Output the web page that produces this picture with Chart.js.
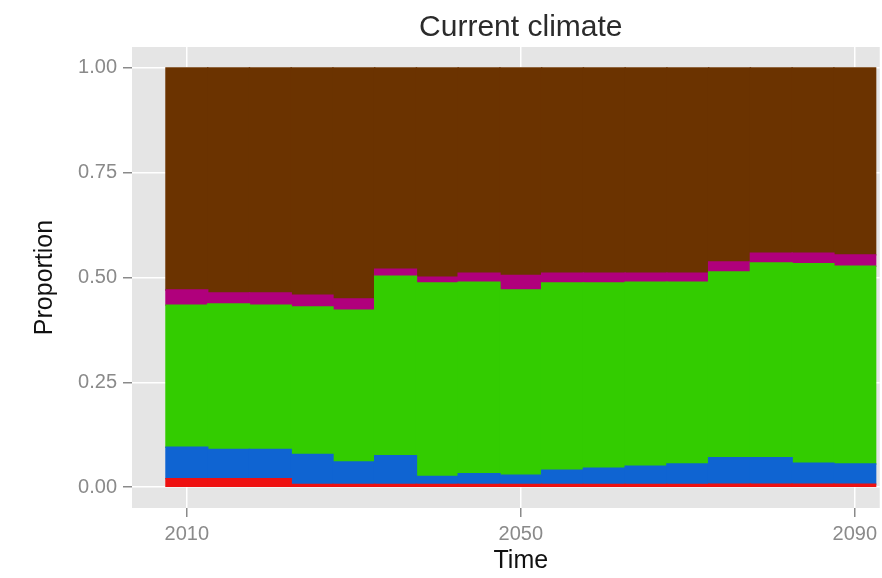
<!DOCTYPE html>
<html>
<head>
<meta charset="utf-8">
<script src="https://cdn.jsdelivr.net/npm/chart.js@4/dist/chart.umd.min.js"></script>
<style>
  html, body { margin: 0; padding: 0; background: #fff; }
</style>
</head>
<body>
<canvas id="climateChart" width="882" height="578"></canvas>
<script>
// Time steps (5-year bins) and the share of each class, bottom to top
const years = [2010, 2015, 2020, 2025, 2030, 2035, 2040, 2045, 2050, 2055, 2060, 2065, 2070, 2075, 2080, 2085, 2090];
const redShare     = [0.020, 0.020, 0.020, 0.006, 0.006, 0.006, 0.006, 0.006, 0.006, 0.006, 0.006, 0.006, 0.006, 0.007, 0.007, 0.007, 0.007];
const blueShare    = [0.075, 0.070, 0.070, 0.072, 0.054, 0.069, 0.019, 0.026, 0.022, 0.034, 0.039, 0.044, 0.049, 0.063, 0.063, 0.050, 0.048];
const greenShare   = [0.339, 0.347, 0.344, 0.352, 0.362, 0.428, 0.462, 0.457, 0.442, 0.447, 0.442, 0.439, 0.434, 0.443, 0.465, 0.476, 0.472];
const magentaShare = [0.036, 0.026, 0.029, 0.028, 0.027, 0.017, 0.014, 0.021, 0.035, 0.023, 0.023, 0.021, 0.021, 0.024, 0.023, 0.025, 0.027];
const brownShare   = [0.530, 0.537, 0.537, 0.542, 0.551, 0.480, 0.499, 0.490, 0.495, 0.490, 0.490, 0.490, 0.490, 0.463, 0.442, 0.442, 0.446];

const xTicks = [2010, 2050, 2090];
const yTicks = [0, 0.25, 0.5, 0.75, 1];

const FONT = "'Liberation Sans', Arial, sans-serif";

function series(label, values, colour) {
    return {
        label: label,
        data: years.map((yr, i) => ({ x: yr, y: values[i] })),
        backgroundColor: colour,
        borderWidth: 0,
        inflateAmount: 0.7,
        barPercentage: 1,
        categoryPercentage: 1
    };
}

// Grey ggplot-style panel behind the bars
const panelBackground = {
    id: "panelBackground",
    beforeDraw(chart) {
        const { ctx, chartArea: a } = chart;
        ctx.save();
        ctx.fillStyle = "#e5e5e5";
        ctx.fillRect(a.left, a.top, a.right - a.left, a.bottom - a.top);
        ctx.restore();
    }
};

// Title and axis titles, centred on the panel
const titles = {
    id: "titles",
    afterDraw(chart) {
        const { ctx, scales } = chart;
        const cx = scales.x.getPixelForValue(2050);
        const cy = scales.y.getPixelForValue(0.5);
        ctx.save();
        ctx.textAlign = "center";
        ctx.textBaseline = "middle";
        ctx.fillStyle = "#2b2b2b";
        ctx.font = "30px " + FONT;
        ctx.fillText("Current climate", cx, 28);
        ctx.fillStyle = "#111";
        ctx.font = "25px " + FONT;
        ctx.fillText("Time", cx, 561);
        ctx.translate(45, cy);
        ctx.rotate(-Math.PI / 2);
        ctx.fillText("Proportion", 0, 0);
        ctx.restore();
    }
};

new Chart(document.getElementById("climateChart"), {
    type: "bar",
    data: {
        datasets: [
            series("Class 1", redShare, "#ee1111"),
            series("Class 2", blueShare, "#0f64d2"),
            series("Class 3", greenShare, "#33cc00"),
            series("Class 4", magentaShare, "#b0007c"),
            series("Class 5", brownShare, "#6b3300")
        ]
    },
    options: {
        responsive: false,
        animation: false,
        devicePixelRatio: 1,
        layout: { padding: { top: 47, right: 0, bottom: 0, left: 0 } },
        plugins: {
            legend: { display: false },
            title: { display: false },
            tooltip: { enabled: false }
        },
        scales: {
            x: {
                type: "linear",
                stacked: true,
                offset: false,
                min: 2003.43,
                max: 2092.99,
                afterBuildTicks: s => { s.ticks = xTicks.map(v => ({ value: v })); },
                afterFit: s => { s.height = 70; },
                border: { display: false },
                grid: {
                    offset: false,
                    color: "#ffffff",
                    lineWidth: 1.5,
                    tickColor: "#8a8a8a",
                    tickLength: 9
                },
                ticks: {
                    color: "#8a8a8a",
                    padding: 5,
                    font: { family: FONT, size: 20 },
                    maxRotation: 0,
                    callback: v => String(v)
                }
            },
            y: {
                stacked: true,
                min: -0.05,
                max: 1.05,
                afterBuildTicks: s => { s.ticks = yTicks.map(v => ({ value: v })); },
                afterFit: s => { s.width = 132; },
                border: { display: false },
                grid: {
                    color: "#ffffff",
                    lineWidth: 1.5,
                    tickColor: "#8a8a8a",
                    tickLength: 9
                },
                ticks: {
                    color: "#8a8a8a",
                    padding: 6,
                    font: { family: FONT, size: 20 },
                    callback: v => v.toFixed(2)
                }
            }
        }
    },
    plugins: [panelBackground, titles]
});
</script>
</body>
</html>
